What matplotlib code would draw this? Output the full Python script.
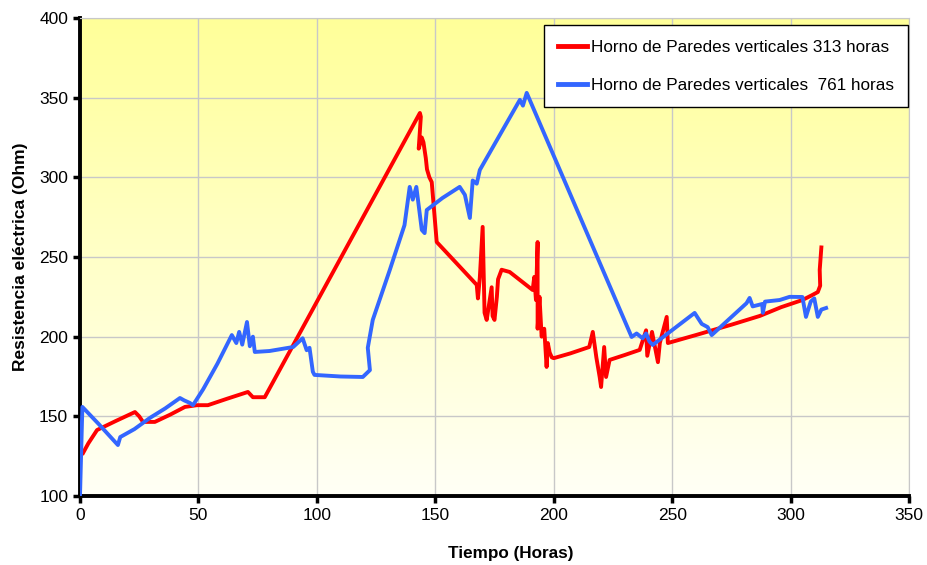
import numpy as np
import matplotlib
matplotlib.use('Agg')
import matplotlib.pyplot as plt
from matplotlib.colors import LinearSegmentedColormap

# (Tiempo in hours, Resistencia in Ohm)
red_x = [1.3, 3.5, 7.2, 15, 23.2, 25, 26.6, 31.6, 38, 44.3, 49.4, 54, 62, 70.9, 73, 78,
         143.5, 143.9, 143.0, 144.3, 145.0, 146.0, 146.5, 147.5, 148.5, 150.6,
         161.6, 167.5, 168.0, 168.8, 170.0, 170.8, 171.7, 173.8, 174.2, 175.0, 176.0,
         176.5, 178.0, 181.4, 191.1, 191.8, 192.5, 193.2, 193.2, 194.0, 194.9, 196.0,
         197.0, 197.5, 198.3, 199.2, 200.0, 207, 215.0, 216.5, 218.0, 219.4, 220.0,
         221.3, 222.1, 223.6, 230, 236.3, 239.0, 239.5, 241.5, 244.0, 244.8, 247.7,
         248.2, 260, 275, 287.0, 296, 305.0, 309, 311.5, 312.5, 312.3, 313.0]
red_y = [127, 133, 141.4, 147, 152.7, 150, 146.5, 146.5, 151, 155.9, 157, 157, 161, 165.3, 162, 162,
         340.4, 338, 318, 325, 322, 312, 305, 300, 297, 259.4,
         241.9, 232.5, 224, 237, 268.9, 215, 210.5, 231, 213, 210.5, 225,
         236, 242, 240.6, 229.3, 237.5, 223, 259.4, 205, 225, 200, 205,
         181, 196, 190, 187, 186.5, 189.5, 193.5, 203, 187, 174.7, 168.4,
         193.5, 174.7, 185.4, 188.5, 191.7, 204, 188, 203, 184, 196, 212.4,
         196, 201, 207.5, 213, 218.5, 223, 226, 228, 232, 241.9, 256]

blue_x = [0.0, 1.0, 8, 16.0, 17.0, 23, 29.5, 36, 42.2, 44, 46.4, 47.7, 52, 58, 64.1, 66.0,
          67.2, 68.5, 70.5, 71.7, 73.0, 73.8, 80, 90.0, 94.0, 95.7, 96.9, 98.3, 99.0,
          110, 119.4, 122.4, 121.5, 123.6, 130.8, 137.0, 139.2, 140.5, 142.0, 144.3,
          145.5, 146.4, 153, 160.3, 162.5, 164.6, 165.8, 167.5, 168.8, 185.7, 187.0,
          188.6, 232.9, 235.0, 237.5, 239.0, 240.4, 241.8, 259.5, 262.5, 265.0, 266.7,
          281.4, 282.7, 284.0, 288.0, 288.3, 289.2, 295.4, 299.6, 305.0, 306.5,
          308.5, 310.0, 311.5, 313.0, 315.0]
blue_y = [100, 155.9, 145, 132, 137, 142, 149, 155, 161.5, 160, 158.4, 157, 167, 183, 201, 196,
          203, 195, 209.2, 194, 200, 190.4, 191, 193.5, 199, 191.5, 193, 178, 176,
          175, 174.7, 179, 193, 210.5, 241.9, 270, 294, 286, 294, 267,
          265, 279.5, 287, 294, 289, 274.5, 298, 296, 304.6, 348.6, 345,
          353, 199.8, 202, 199, 202, 197, 194.8, 214.9, 208, 206, 201,
          221, 224.3, 219, 220.5, 215, 222, 223, 225, 224.9, 212.4,
          222, 224, 212.4, 217, 218]

x_ticks = [0, 50, 100, 150, 200, 250, 300, 350]
y_ticks = [100, 150, 200, 250, 300, 350, 400]
labels = ['Horno de Paredes verticales 313 horas', 'Horno de Paredes verticales  761 horas']
colors = ['#ff0000', '#3366ff']

plt.rcParams['font.family'] = ['Liberation Sans', 'DejaVu Sans']

fig = plt.figure(figsize=(9.28, 5.65), dpi=100, facecolor='w')
ax = fig.add_axes([80 / 928, 69 / 565, 829 / 928, 478 / 565])

# yellow-to-white gradient background
cmap = LinearSegmentedColormap.from_list('bg', ['#fffff6', '#ffff99'])
grad = np.linspace(0, 1, 256).reshape(-1, 1)
ax.imshow(grad, cmap=cmap, aspect='auto', origin='lower', extent=[0, 1, 0, 1],
          transform=ax.transAxes, zorder=0)

ax.plot(red_x, red_y, color=colors[0], lw=2.8, label=labels[0], zorder=3,
        solid_joinstyle='round')
ax.plot(blue_x, blue_y, color=colors[1], lw=2.8, label=labels[1], zorder=3,
        solid_joinstyle='round')

ax.set_xlim(0, 350)
ax.set_ylim(100, 400)
ax.set_xticks(x_ticks)
ax.set_yticks(y_ticks)
ax.grid(True, color='#c8c8c8', lw=1, zorder=1)
ax.tick_params(direction='out', length=5, width=2.5, colors='black', labelsize=12.5)

ax.spines['left'].set_linewidth(2.8)
ax.spines['bottom'].set_linewidth(2.8)
ax.spines['top'].set_color('#c8c8c8')
ax.spines['right'].set_color('#c8c8c8')

ax.set_xlabel('Tiempo (Horas)', fontsize=12.3, fontweight='bold')
ax.xaxis.set_label_coords(0.519, -0.104)
ax.set_ylabel('Resistencia eléctrica (Ohm)', fontsize=12.5, fontweight='bold')
ax.yaxis.set_label_coords(-0.063, 0.5)

legend = ax.legend(loc='upper right', bbox_to_anchor=(0.999, 0.985), fontsize=12.3,
                   frameon=True, fancybox=False, edgecolor='black', framealpha=1,
                   handlelength=1.7, handletextpad=0.2, labelspacing=1.35,
                   borderpad=0.85, borderaxespad=0)
legend.get_frame().set_linewidth(1)
for line in legend.get_lines():
    line.set_linewidth(3.5)

fig.savefig('out.png', dpi=100)
plt.close()
